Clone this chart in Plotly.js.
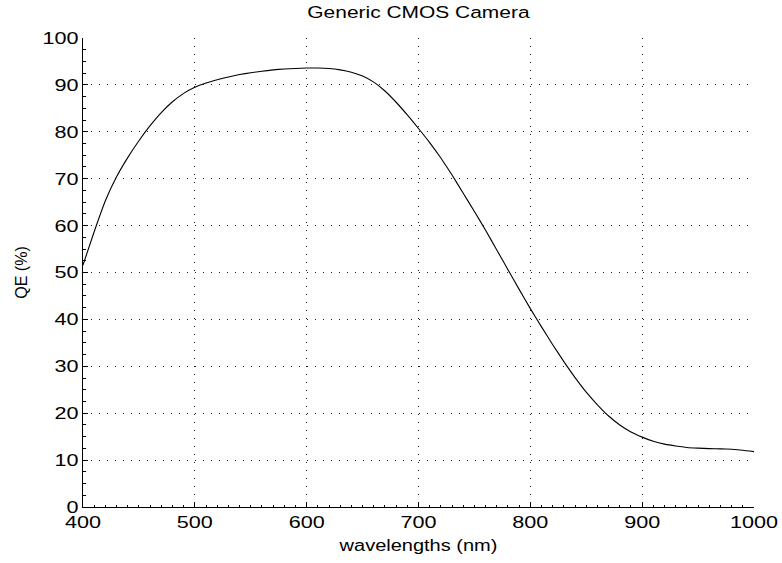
<!DOCTYPE html>
<html>
<head>
<meta charset="utf-8">
<script src="https://cdn.plot.ly/plotly-3.0.1.min.js"></script>
<style>
html,body{margin:0;padding:0;background:#fff;}
#chart{width:782px;height:563px;}
</style>
</head>
<body>
<div id="chart"></div>
<script>
// Wavelengths (nm)
var wavelengths = [400,410,420,430,440,450,460,470,480,490,
  500,510,520,530,540,550,560,570,580,590,
  600,610,620,630,640,650,660,670,680,690,
  700,710,720,730,740,750,760,770,780,790,
  800,810,820,830,840,850,860,870,880,890,
  900,910,920,930,940,950,960,970,980,990,1000];
// Quantum efficiency (%)
var qe = [51.6,58.7,65.3,70.4,74.5,78.1,81.3,84.1,86.4,88.2,
  89.5,90.4,91.1,91.7,92.2,92.6,92.9,93.2,93.4,93.5,
  93.6,93.6,93.5,93.2,92.7,91.9,90.6,88.7,86.3,83.6,
  80.7,77.7,74.4,70.8,66.9,63.0,59.0,54.8,50.6,46.4,
  42.3,38.4,34.6,31.0,27.6,24.5,21.8,19.4,17.5,16.0,
  14.9,14.0,13.4,13.0,12.7,12.55,12.45,12.4,12.3,12.1,11.8];
var xTicks = [400,500,600,700,800,900,1000];
var yTicks = [0,10,20,30,40,50,60,70,80,90,100];

var trace = {
  x: wavelengths, y: qe, type: 'scatter', mode: 'lines',
  line: {color: '#000', width: 1.1, shape: 'spline', smoothing: 0.4},
  hoverinfo: 'skip', showlegend: false
};

var fontFam = 'Liberation Sans, Arial, Helvetica, sans-serif';
var layout = {
  width: 782, height: 563,
  margin: {l: 83, r: 28, t: 38, b: 56, pad: 0},
  paper_bgcolor: '#fff', plot_bgcolor: '#fff',
  font: {family: fontFam, size: 16, color: '#000'},
  title: {text: 'Generic CMOS Camera', font: {family: fontFam, size: 16.5, color: '#000'},
    x: 0.5351, xanchor: 'center', y: 0.978, yanchor: 'middle'},
  xaxis: {
    range: [400, 1000], tickvals: xTicks, ticktext: xTicks.map(String),
    showline: true, linecolor: '#000', linewidth: 1, mirror: false,
    ticks: 'inside', ticklen: 5, tickcolor: '#000', tickwidth: 1,
    showgrid: true, gridcolor: '#222', gridwidth: 1, griddash: '1px,7px',
    zeroline: false, tickfont: {size: 17, color: '#000'},
    minor: {dtick: 10, tick0: 400, ticks: 'inside', ticklen: 2.5, tickcolor: '#000', showgrid: false},
    title: {text: 'wavelengths (nm)', font: {size: 16, color: '#000'}, standoff: 8},
    fixedrange: true
  },
  yaxis: {
    range: [0, 100], tickvals: yTicks, ticktext: yTicks.map(String),
    showline: true, linecolor: '#000', linewidth: 1, mirror: false,
    ticks: 'inside', ticklen: 5, tickcolor: '#000', tickwidth: 1,
    showgrid: true, gridcolor: '#222', gridwidth: 1, griddash: '1px,7px',
    zeroline: false, tickfont: {size: 17, color: '#000'},
    minor: {dtick: 2.5, tick0: 0, ticks: 'inside', ticklen: 2.5, tickcolor: '#000', showgrid: false},
    title: {text: 'QE (%)', font: {size: 16, color: '#000'}, standoff: 18},
    fixedrange: true
  }
};

function stretch(sel, s) {
  document.querySelectorAll(sel).forEach(function (t) {
    var x = parseFloat(t.getAttribute('x')) || 0;
    var tr = t.getAttribute('transform') || '';
    t.setAttribute('transform', tr + ' translate(' + x + ',0) scale(' + s + ',1) translate(' + (-x) + ',0)');
  });
}

Plotly.newPlot('chart', [trace], layout, {displayModeBar: false, staticPlot: true}).then(function () {
  stretch('#chart .xtick text', 1.27);
  stretch('#chart .ytick text', 1.27);
  stretch('#chart .gtitle', 1.27);
  stretch('#chart .xtitle', 1.25);
});
</script>
</body>
</html>
